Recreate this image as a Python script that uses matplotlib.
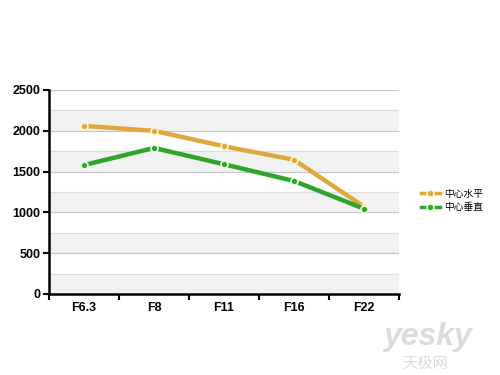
import matplotlib
matplotlib.use("Agg")
import matplotlib.pyplot as plt
import numpy as np

plt.rcParams['font.family'] = ['Liberation Sans', 'Noto Sans CJK SC', 'DejaVu Sans']

categories = ['F6.3', 'F8', 'F11', 'F16', 'F22']
horizontal = [2060, 2000, 1810, 1645, 1070]   # 中心水平
vertical = [1580, 1790, 1590, 1385, 1045]     # 中心垂直
series_names = ['中心水平', '中心垂直']

fig = plt.figure(figsize=(5, 3.75), dpi=100)
ax = fig.add_axes([0.098, 0.216, 0.70, 0.544])

x = np.arange(len(categories))

# alternating bands + grid
for lo in range(0, 2500, 500):
    ax.axhspan(lo, lo + 250, color='#f2f2f2', zorder=0, lw=0)
for y in range(250, 2501, 250):
    c = '#c8c8c8' if y % 500 == 0 else '#dcdcdc'
    ax.axhline(y, color=c, lw=0.9, zorder=1)

ax.plot(x, horizontal, color='#dfa73c', lw=3.2, marker='o', ms=5,
        mfc='#dfa73c', mec='#fff4c8', mew=1.2, zorder=3, label=series_names[0])
ax.plot(x, vertical, color='#2ea42a', lw=3.2, marker='o', ms=5,
        mfc='#2ea42a', mec='#e6ffe0', mew=1.2, zorder=3, label=series_names[1])

ax.set_xlim(-0.5, 4.5)
ax.set_ylim(0, 2500)
ax.set_yticks(range(0, 2501, 500))
ax.set_xticks(x)
ax.set_xticklabels(categories)
ax.set_xticks(np.arange(-0.5, 4.6, 1), minor=True)
ax.tick_params(axis='x', which='major', length=0, pad=6)
ax.tick_params(axis='x', which='minor', length=4, width=1.5)
ax.tick_params(axis='y', length=4, width=1.5, pad=2)
for lbl in ax.get_xticklabels() + ax.get_yticklabels():
    lbl.set_fontweight('bold')
    lbl.set_fontsize(9)

for s in ['top', 'right']:
    ax.spines[s].set_visible(False)
ax.spines['left'].set_linewidth(1.8)
ax.spines['bottom'].set_linewidth(1.8)

leg = fig.legend(loc='upper left', bbox_to_anchor=(0.825, 0.52), frameon=False,
                 handlelength=1.9, handletextpad=0.5, labelspacing=0.35,
                 prop={'family': ['Noto Sans CJK SC', 'DejaVu Sans'], 'size': 7})
for h in leg.legend_handles:
    h.set_linewidth(2.5)

# watermark
fig.text(0.855, 0.1, 'yesky', fontsize=23, color='#dcdcdc', ha='center', va='center',
         fontweight='bold', style='italic')
fig.text(0.85, 0.03, '天极网', fontsize=11, color='#dcdcdc', ha='center', va='center',
         family=['Noto Sans CJK SC', 'DejaVu Sans'])

fig.savefig('out.png', dpi=100)
